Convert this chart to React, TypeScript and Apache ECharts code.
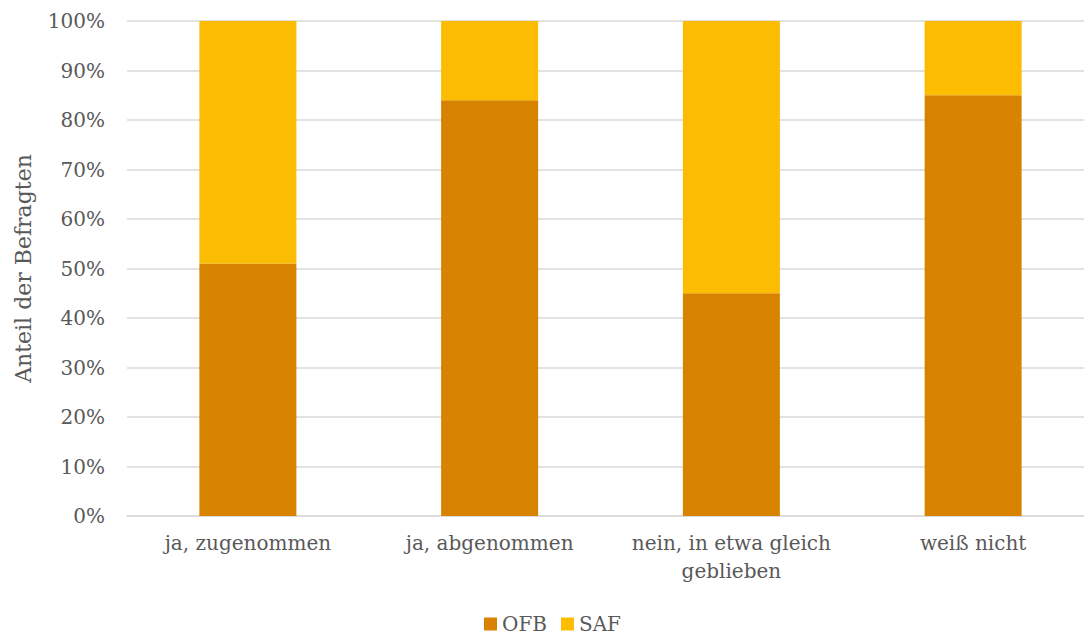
import React, { useEffect, useRef } from "react";
import * as echarts from "echarts";

const categories = ["ja, zugenommen", "ja, abgenommen", "nein, in etwa gleich\ngeblieben", "weiß nicht"];
const ofb = [51, 84, 45, 85];
const saf = [49, 16, 55, 15];
const yTicks = [0, 10, 20, 30, 40, 50, 60, 70, 80, 90, 100];

const FONT = "DejaVu Serif";
const TEXT = "#595959";

export default function App() {
  const ref = useRef<HTMLDivElement>(null);
  useEffect(() => {
    const chart = echarts.init(ref.current!, null, { renderer: "svg" });
    chart.setOption({
      animation: false,
      textStyle: { fontFamily: FONT, color: TEXT },
      grid: { left: 127, right: -10, top: 21, bottom: 121, outerBoundsMode: "none", containLabel: false },
      legend: {
        top: 609,
        left: 479,
        itemWidth: 13,
        itemHeight: 13,
        itemGap: 14,
        icon: "rect",
        textStyle: { fontFamily: FONT, color: TEXT, fontSize: 20 },
        data: ["OFB", "SAF"],
      },
      xAxis: {
        type: "category",
        data: categories,
        axisTick: { show: false },
        axisLine: { lineStyle: { color: "#D9D9D9", width: 1.5 } },
        axisLabel: { color: TEXT, fontFamily: FONT, fontSize: 20, margin: 13, lineHeight: 28, interval: 0 },
      },
      yAxis: {
        type: "value",
        min: yTicks[0],
        max: yTicks[yTicks.length - 1],
        interval: 10,
        name: "Anteil der Befragten",
        nameLocation: "middle",
        nameGap: 93,
        nameTextStyle: { color: TEXT, fontFamily: FONT, fontSize: 22 },
        axisLabel: { color: TEXT, fontFamily: FONT, fontSize: 20, margin: 22, formatter: "{value}%" },
        splitLine: { lineStyle: { color: "#D9D9D9", width: 1.5 } },
      },
      series: [
        { name: "OFB", type: "bar", stack: "s", data: ofb, barWidth: 97, itemStyle: { color: "#D88300" } },
        { name: "SAF", type: "bar", stack: "s", data: saf, barWidth: 97, itemStyle: { color: "#FBBC02" } },
      ],
    });
    return () => chart.dispose();
  }, []);
  return <div ref={ref} style={{ width: 1084, height: 637, position: "absolute", left: 0, top: 0 }} />;
}
